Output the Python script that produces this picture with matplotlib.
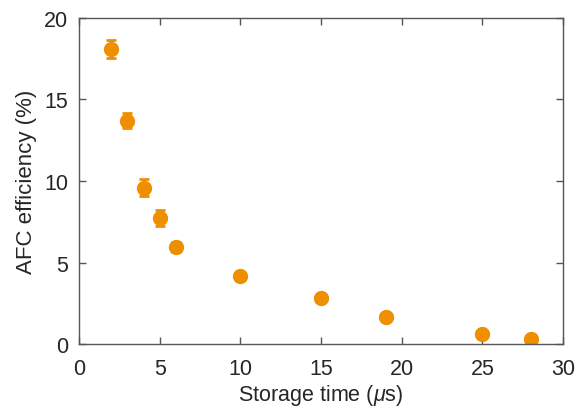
import matplotlib
matplotlib.use("Agg")
import matplotlib.pyplot as plt

# storage time (us) and AFC efficiency (%) with error
storage_time = [2, 3, 4, 5, 6, 10, 15, 19, 25, 28]
efficiency = [18.1, 13.7, 9.6, 7.75, 5.95, 4.2, 2.8, 1.65, 0.62, 0.3]
eff_err = [0.55, 0.45, 0.5, 0.48, 0.3, 0.15, 0.12, 0.1, 0.08, 0.08]

plt.rcParams['font.family'] = ['Liberation Sans', 'DejaVu Sans']
plt.rcParams['mathtext.fontset'] = 'custom'
plt.rcParams['mathtext.it'] = 'Liberation Sans:italic'

fig = plt.figure(figsize=(5.81, 4.10), dpi=100)
ax = fig.add_axes([0.136, 0.1585, 0.833, 0.7952])

orange = '#EE8F00'
ax.errorbar(storage_time, efficiency, yerr=eff_err, fmt='o', color=orange,
            ms=10, elinewidth=2, capsize=3.5, capthick=2, mec=orange)

ax.set_xlim(0, 30)
ax.set_ylim(0, 20)
ax.set_xticks([0, 5, 10, 15, 20, 25, 30])
ax.set_yticks([0, 5, 10, 15, 20])

axcol = '#555555'
txtcol = '#262626'
for s in ax.spines.values():
    s.set_color(axcol)
    s.set_linewidth(1.0)
ax.tick_params(direction='in', top=True, right=True, length=5, width=1,
               colors=axcol, labelcolor=txtcol, labelsize=15.5)
ax.tick_params(axis='x', pad=10)
ax.tick_params(axis='y', pad=8)

ax.set_xlabel('Storage time ($\\mu$s)', fontsize=15.5, color=txtcol, labelpad=2)
ax.set_ylabel('AFC efficiency (%)', fontsize=16, color=txtcol, labelpad=5)

fig.savefig('out.png', dpi=100)
